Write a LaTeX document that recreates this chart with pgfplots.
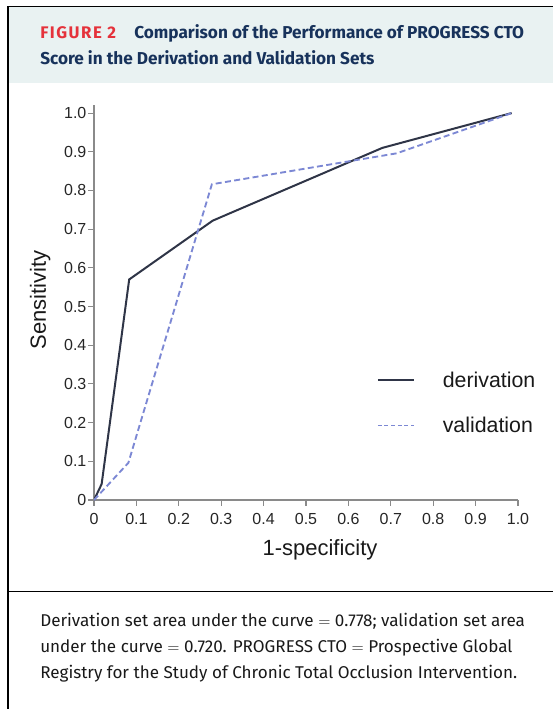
\documentclass[border=0pt]{standalone}
\usepackage{fontspec}
\setmainfont{Fira Sans}
\newfontfamily\arialfont{Liberation Sans}
\usepackage{pgfplots}
\pgfplotsset{compat=1.18}

\definecolor{deriv}{HTML}{2F3547}
\definecolor{valid}{HTML}{7C88D4}
\definecolor{axgray}{HTML}{8A8A8A}
\definecolor{headbg}{HTML}{E9F2F2}
\definecolor{figred}{HTML}{E5323B}
\definecolor{titleblue}{HTML}{17325B}

\begin{document}
\begin{tikzpicture}
\useasboundingbox (0,0) rectangle (414.75pt,-531.75pt);

% frame, header and caption (1 unit = 1 px of the reference)
\begin{scope}[x=0.75pt,y=-0.75pt]
  \fill[headbg] (8,6.5) rectangle (553,83);
  \draw[line width=0.9pt] (8,6.5) -- (553,6.5);
  \draw[line width=0.9pt] (8,6.5) -- (8,709);
  \draw[line width=0.8pt] (8,591.5) -- (553,591.5);
  \node[anchor=base west, inner sep=0pt, text=figred,
        font=\bfseries\fontsize{12.6}{15}\selectfont\addfontfeatures{LetterSpace=9}] at (40,38.5) {FIGURE 2};
  \node[anchor=base west, inner sep=0pt, text=titleblue,
        font=\bfseries\fontsize{12.9}{15}\selectfont] at (134,38.5)
        {Comparison of the Performance of PROGRESS CTO};
  \node[anchor=base west, inner sep=0pt, text=titleblue,
        font=\bfseries\fontsize{12.9}{15}\selectfont] at (40,65)
        {Score in the Derivation and Validation Sets};
  \begin{scope}[every node/.style={anchor=base west, inner sep=0pt,
        font=\fontsize{12.8}{15}\selectfont, text=black!90}]
    \node at (40,626.7) {Derivation set area under the curve $=$ 0.778; validation set area};
    \node at (40,652.3) {under the curve $=$ 0.720. PROGRESS CTO $=$ Prospective Global};
    \node at (40,678) {Registry for the Study of Chronic Total Occlusion Intervention.};
  \end{scope}
\end{scope}

\begin{axis}[
  at={(70.5pt,-375pt)}, anchor=south west,
  scale only axis, width=318pt, height=296pt,
  xmin=0, xmax=1, ymin=0, ymax=1.02,
  axis lines=left,
  axis line style={-, axgray, line width=0.8pt},
  tick style={axgray, line width=0.8pt},
  tick align=outside, major tick length=4.2pt,
  xtick={0,0.1,0.2,0.3,0.4,0.5,0.6,0.7,0.8,0.9,1.0},
  xticklabels={0,0.1,0.2,0.3,0.4,0.5,0.6,0.7,0.8,0.9,1.0},
  ytick={0,0.1,0.2,0.3,0.4,0.5,0.6,0.7,0.8,0.9,1.0},
  yticklabels={0,0.1,0.2,0.3,0.4,0.5,0.6,0.7,0.8,0.9,1.0},
  /pgf/number format/assume math mode=true,
  ticklabel style={font=\arialfont\fontsize{12}{14}\selectfont, text=black!85},
  xticklabel style={yshift=-2.5pt},
  yticklabel style={xshift=2pt},
  xlabel={1-specificity},
  ylabel={Sensitivity},
  label style={font=\arialfont\fontsize{16.5}{19}\selectfont, text=black!90},
  xlabel style={at={(axis description cs:0.533,-0.1267)}, anchor=center},
  ylabel style={at={(axis description cs:-0.127,0.507)}, anchor=center},
  legend style={draw=none, fill=none, inner sep=0pt, outer sep=0pt,
    at={(axis cs:0.667,0.3315)}, anchor=north west,
    font=\arialfont\fontsize{16}{19}\selectfont,
    nodes={inner sep=0pt, text=black!90}, row sep=21pt,
    /tikz/every odd column/.append style={column sep=20.5pt}},
  legend cell align=left,
  legend image code/.code={\draw[#1] (0pt,0pt) -- (27.5pt,0pt);},
]
\addplot[deriv, line width=1.5pt] coordinates {
  (0,0) (0.018,0.041) (0.083,0.570) (0.280,0.722) (0.680,0.910) (0.985,1.0)
};
\addlegendentry{derivation}
\addplot[valid, line width=1.4pt, dash pattern=on 4.5pt off 2.5pt,
  legend image code/.code={\draw[valid, line width=0.8pt, dash pattern=on 3pt off 2pt] (0pt,0pt) -- (27.5pt,0pt);}]
  coordinates {
  (0,0) (0.081,0.096) (0.278,0.816) (0.714,0.896) (0.985,1.0)
};
\addlegendentry{validation}
\end{axis}
\end{tikzpicture}
\end{document}
